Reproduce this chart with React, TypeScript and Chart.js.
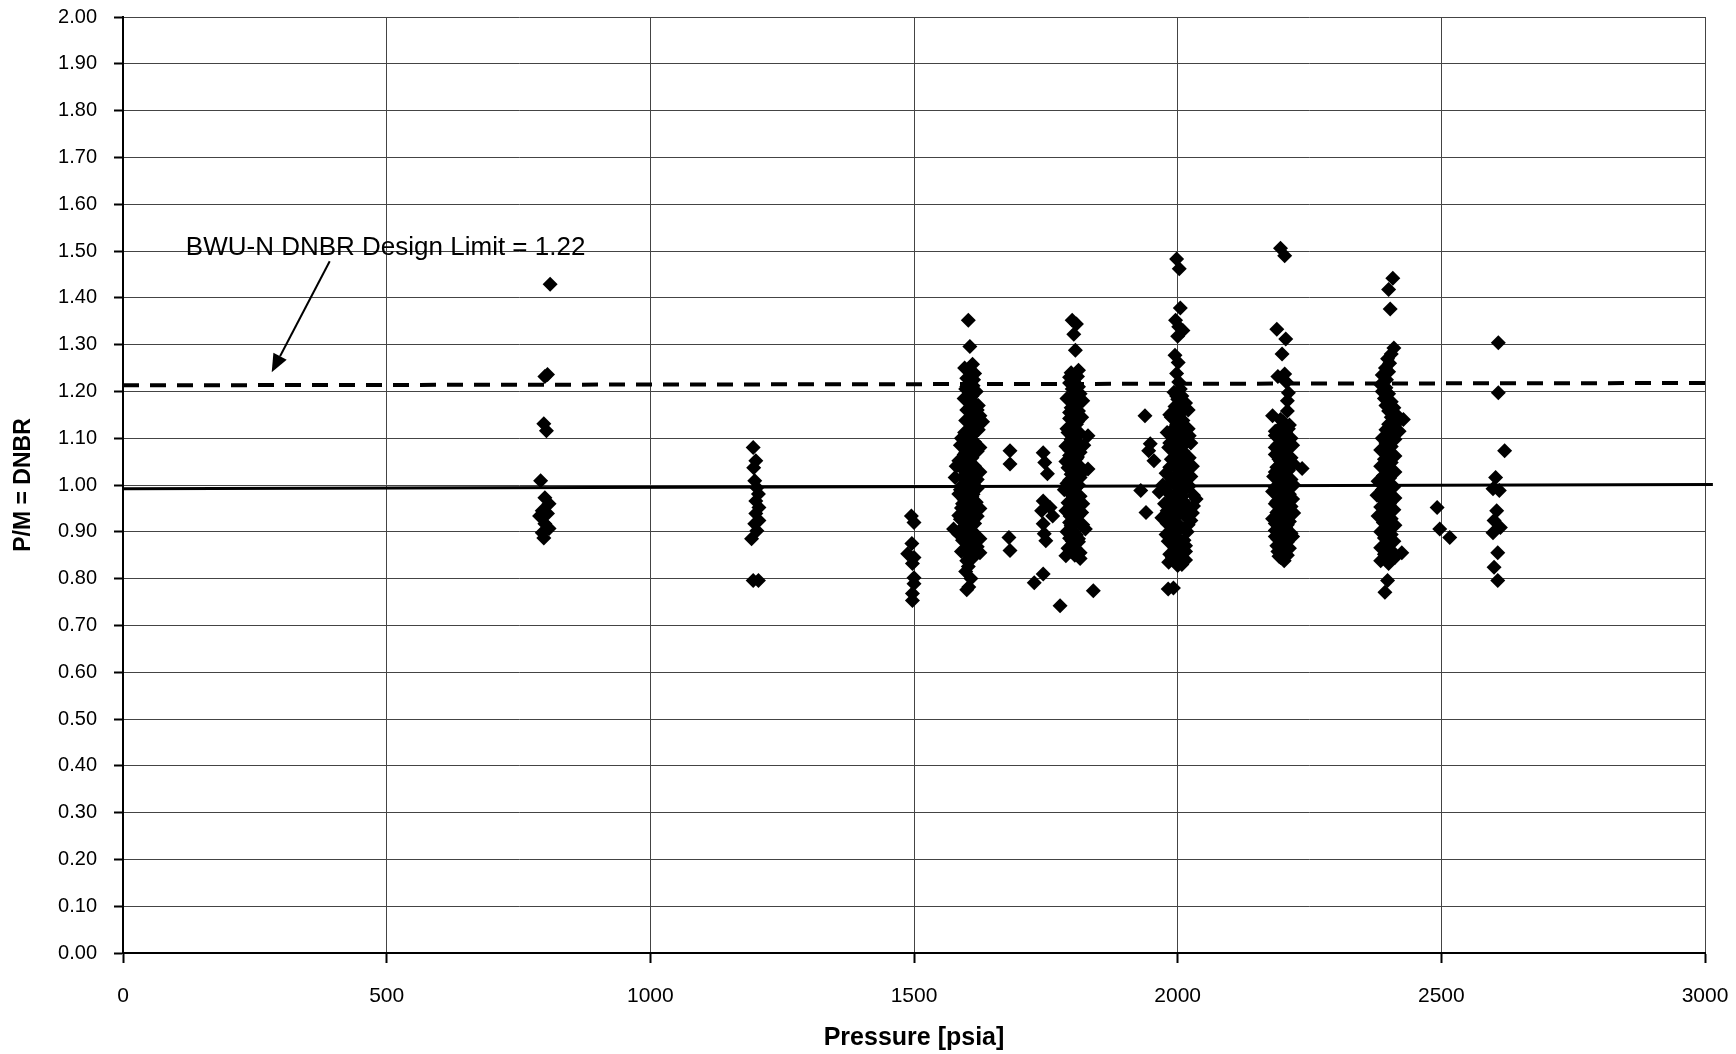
import React, { useEffect, useRef } from "react";
import { Chart, registerables } from "chart.js";

Chart.register(...registerables);

// ---- Data: [pressure psia, P/M = DNBR] ----
const cluster800: [number, number][] = [
  [810, 1.429], [805, 1.236], [800, 1.232], [798, 1.131], [803, 1.116], [792, 1.009],
  [800, 0.973], [808, 0.96], [795, 0.945], [790, 0.934], [805, 0.939], [800, 0.917],
  [808, 0.907], [795, 0.898], [798, 0.887],
];
const cluster1200: [number, number][] = [
  [1195, 1.08], [1200, 1.052], [1196, 1.037], [1198, 1.009], [1202, 0.994], [1205, 0.981],
  [1200, 0.966], [1206, 0.952], [1200, 0.939], [1206, 0.924], [1198, 0.917], [1202, 0.902],
  [1192, 0.885], [1195, 0.796], [1205, 0.796],
];
const cluster1500: [number, number][] = [
  [1495, 0.934], [1500, 0.92], [1496, 0.875], [1488, 0.853], [1500, 0.845], [1497, 0.832],
  [1500, 0.802], [1500, 0.789], [1497, 0.768], [1497, 0.753],
];
const cluster1600: [number, number][] = [
  [1603, 1.352], [1606, 1.296], [1611, 1.258], [1604, 1.245], [1615, 1.238], [1600, 1.228],
  [1608, 1.22], [1612, 1.212], [1598, 1.205], [1605, 1.198], [1610, 1.19], [1602, 1.182],
  [1615, 1.175], [1607, 1.168], [1620, 1.16], [1625, 1.148], [1612, 1.142], [1630, 1.135],
  [1618, 1.128], [1606, 1.12], [1596, 1.112], [1610, 1.105], [1600, 1.098], [1615, 1.092],
  [1588, 1.085], [1605, 1.078], [1620, 1.072], [1595, 1.065], [1610, 1.058], [1585, 1.052],
  [1600, 1.046], [1615, 1.04], [1592, 1.034], [1625, 1.028], [1605, 1.022], [1578, 1.016],
  [1598, 1.01], [1612, 1.004], [1590, 0.998], [1620, 0.993], [1600, 0.987], [1585, 0.981],
  [1610, 0.975], [1595, 0.969], [1618, 0.963], [1602, 0.957], [1590, 0.951], [1612, 0.945],
  [1598, 0.939], [1620, 0.933], [1588, 0.927], [1605, 0.921], [1575, 0.906], [1595, 0.912],
  [1612, 0.9], [1600, 0.894], [1618, 0.888], [1592, 0.882], [1608, 0.876], [1620, 0.868],
  [1598, 0.862], [1625, 0.855], [1605, 0.85], [1612, 0.845], [1603, 0.826], [1598, 0.815],
  [1608, 0.8], [1604, 0.782], [1600, 0.776],
  [1596, 1.25], [1613, 1.225], [1600, 1.21], [1618, 1.2], [1595, 1.185], [1622, 1.17],
  [1600, 1.16], [1612, 1.15], [1598, 1.138], [1622, 1.118], [1590, 1.1], [1625, 1.08],
  [1598, 1.07], [1580, 1.04], [1610, 1.03], [1595, 1.02], [1620, 1.012], [1588, 0.99],
  [1605, 0.995], [1612, 0.98], [1592, 0.96], [1625, 0.95], [1605, 0.94], [1585, 0.935],
  [1615, 0.918], [1598, 0.905], [1585, 0.895], [1625, 0.885], [1602, 0.872], [1590, 0.858],
  [1610, 0.86], [1600, 0.838],
];
const cluster1680: [number, number][] = [
  [1682, 1.073], [1682, 1.045], [1680, 0.888], [1682, 0.86],
];
const cluster1750: [number, number][] = [
  [1745, 1.069], [1748, 1.048], [1753, 1.024], [1745, 0.966], [1742, 0.945], [1758, 0.952],
  [1763, 0.934], [1745, 0.917], [1747, 0.896], [1750, 0.881], [1728, 0.791], [1745, 0.81],
  [1777, 0.742],
];
const cluster1800: [number, number][] = [
  [1800, 1.352], [1808, 1.344], [1803, 1.322], [1806, 1.288], [1798, 1.24], [1810, 1.232],
  [1802, 1.225], [1795, 1.218], [1812, 1.21], [1805, 1.203], [1815, 1.195], [1800, 1.19],
  [1820, 1.18], [1808, 1.172], [1798, 1.165], [1812, 1.158], [1803, 1.15], [1795, 1.142],
  [1810, 1.135], [1800, 1.128], [1830, 1.105], [1805, 1.12], [1792, 1.112], [1808, 1.104],
  [1798, 1.097], [1812, 1.09], [1788, 1.083], [1803, 1.076], [1815, 1.07], [1795, 1.063],
  [1808, 1.056], [1800, 1.05], [1830, 1.034], [1812, 1.043], [1792, 1.037], [1805, 1.03],
  [1798, 1.023], [1815, 1.016], [1802, 1.01], [1790, 1.003], [1810, 0.997], [1800, 0.99],
  [1795, 0.983], [1815, 0.976], [1805, 0.969], [1792, 0.962], [1810, 0.955], [1800, 0.948],
  [1818, 0.941], [1796, 0.934], [1806, 0.927], [1812, 0.92], [1798, 0.913], [1825, 0.906],
  [1803, 0.9], [1808, 0.893], [1795, 0.886], [1812, 0.879], [1800, 0.872], [1806, 0.865],
  [1798, 0.858], [1788, 0.849], [1815, 0.843], [1840, 0.774],
  [1812, 1.245], [1795, 1.23], [1808, 1.215], [1800, 1.205], [1790, 1.185], [1812, 1.175],
  [1795, 1.155], [1818, 1.145], [1808, 1.13], [1790, 1.12], [1815, 1.11], [1800, 1.1],
  [1822, 1.085], [1795, 1.075], [1810, 1.06], [1788, 1.05], [1818, 1.025], [1795, 1.01],
  [1812, 1.0], [1785, 0.99], [1808, 0.98], [1798, 0.965], [1820, 0.96], [1788, 0.945],
  [1812, 0.935], [1795, 0.92], [1820, 0.915], [1790, 0.9], [1812, 0.885], [1800, 0.88],
  [1792, 0.865], [1815, 0.855], [1805, 0.85],
];
const cluster1950: [number, number][] = [
  [1938, 1.148], [1948, 1.088], [1945, 1.073], [1955, 1.052], [1930, 0.988], [1940, 0.941],
  [1983, 1.08],
];
const cluster2000: [number, number][] = [
  [1998, 1.483], [2003, 1.462], [2005, 1.378], [1996, 1.352], [2002, 1.338], [2010, 1.33],
  [2000, 1.318], [1995, 1.277], [2001, 1.262], [1998, 1.238], [2002, 1.22],
  [1993, 1.198], [2008, 1.19], [2000, 1.183], [2015, 1.175], [1995, 1.168], [2020, 1.16],
  [2005, 1.152], [1988, 1.145], [2010, 1.138], [1998, 1.13], [2015, 1.122], [1980, 1.112],
  [2003, 1.115], [2012, 1.106], [1995, 1.1], [2018, 1.093], [2005, 1.086], [1990, 1.079],
  [2010, 1.072], [2000, 1.065], [2022, 1.058], [1995, 1.051], [2008, 1.045], [1985, 1.038],
  [2015, 1.031], [2000, 1.025], [2025, 1.018], [1990, 1.012], [2008, 1.005], [1980, 0.998],
  [2015, 0.992], [2000, 0.986], [2030, 0.978], [1990, 0.972], [2010, 0.966], [1975, 0.96],
  [2020, 0.954], [2000, 0.948], [1985, 0.942], [2012, 0.936], [1995, 0.93], [2025, 0.924],
  [1980, 0.918], [2005, 0.912], [1990, 0.906], [2018, 0.9], [1978, 0.894], [2000, 0.888],
  [2012, 0.882], [1988, 0.876], [2005, 0.87], [1995, 0.864], [2015, 0.858], [1985, 0.852],
  [2002, 0.846], [1995, 0.838], [2008, 0.83], [1983, 0.835], [1992, 0.78], [1982, 0.778],
  [1965, 0.985], [2035, 0.97], [1970, 0.93], [2028, 0.94], [1972, 1.0], [2025, 1.09],
  [1985, 1.15], [2020, 1.12],
  [2005, 1.205], [1998, 1.19], [2012, 1.165], [1990, 1.155], [2005, 1.14], [1992, 1.12],
  [2022, 1.105], [1985, 1.09], [2000, 1.08], [2015, 1.06], [1988, 1.055], [2028, 1.04],
  [2000, 1.035], [1978, 1.025], [2012, 1.015], [1995, 1.0], [2022, 0.998], [1985, 0.98],
  [2008, 0.975], [1995, 0.96], [2030, 0.955], [1980, 0.945], [2010, 0.94], [1990, 0.925],
  [2020, 0.915], [1998, 0.9], [1982, 0.88], [2015, 0.87], [1995, 0.875], [2008, 0.855],
  [1990, 0.845], [2015, 0.84], [2000, 0.828],
];
const cluster2200: [number, number][] = [
  [2195, 1.506], [2203, 1.49], [2188, 1.333], [2205, 1.312], [2198, 1.28], [2203, 1.237],
  [2190, 1.232], [2206, 1.22], [2210, 1.197], [2208, 1.18], [2208, 1.158], [2180, 1.148],
  [2200, 1.135], [2212, 1.128], [2192, 1.12], [2205, 1.113], [2185, 1.106], [2215, 1.1],
  [2198, 1.093], [2190, 1.086], [2210, 1.079], [2200, 1.072], [2185, 1.065], [2215, 1.058],
  [2195, 1.051], [2205, 1.045], [2236, 1.035], [2188, 1.038], [2210, 1.031], [2198, 1.025],
  [2182, 1.018], [2215, 1.012], [2200, 1.005], [2190, 0.998], [2208, 0.992], [2180, 0.986],
  [2212, 0.98], [2195, 0.973], [2205, 0.967], [2185, 0.96], [2215, 0.954], [2198, 0.948],
  [2188, 0.941], [2208, 0.935], [2180, 0.928], [2212, 0.922], [2195, 0.916], [2205, 0.909],
  [2185, 0.903], [2215, 0.897], [2198, 0.89], [2190, 0.884], [2208, 0.878], [2195, 0.871],
  [2205, 0.865], [2190, 0.858], [2200, 0.851], [2195, 0.845], [2202, 0.838],
  [2195, 1.14], [2210, 1.12], [2185, 1.115], [2200, 1.1], [2218, 1.085], [2185, 1.08],
  [2205, 1.06], [2192, 1.055], [2220, 1.045], [2200, 1.04], [2185, 1.028], [2205, 1.018],
  [2192, 1.01], [2220, 1.0], [2185, 0.995], [2200, 0.985], [2218, 0.97], [2188, 0.965],
  [2205, 0.955], [2192, 0.945], [2220, 0.94], [2200, 0.93], [2185, 0.918], [2208, 0.915],
  [2195, 0.9], [2218, 0.89], [2185, 0.89], [2200, 0.875], [2212, 0.865], [2188, 0.87],
  [2208, 0.85], [2192, 0.848],
];
const cluster2400: [number, number][] = [
  [2408, 1.442], [2400, 1.418], [2403, 1.376], [2410, 1.293], [2405, 1.28], [2398, 1.27],
  [2402, 1.26], [2394, 1.25], [2400, 1.242], [2388, 1.235], [2396, 1.225], [2385, 1.215],
  [2395, 1.208], [2388, 1.2], [2400, 1.195], [2392, 1.185], [2405, 1.178], [2395, 1.17],
  [2410, 1.165], [2400, 1.158], [2415, 1.15], [2405, 1.145], [2428, 1.14], [2418, 1.135],
  [2400, 1.13], [2410, 1.125], [2395, 1.118], [2420, 1.115], [2402, 1.108], [2388, 1.1],
  [2412, 1.098], [2395, 1.09], [2405, 1.082], [2385, 1.075], [2400, 1.07], [2412, 1.062],
  [2392, 1.055], [2405, 1.048], [2385, 1.04], [2398, 1.035], [2412, 1.028], [2390, 1.02],
  [2402, 1.015], [2380, 1.008], [2395, 1.002], [2410, 0.996], [2388, 0.99], [2400, 0.983],
  [2378, 0.978], [2412, 0.972], [2392, 0.966], [2402, 0.96], [2385, 0.953], [2410, 0.947],
  [2395, 0.94], [2380, 0.934], [2405, 0.928], [2390, 0.92], [2412, 0.914], [2398, 0.908],
  [2385, 0.9], [2405, 0.894], [2392, 0.887], [2410, 0.88], [2398, 0.873], [2385, 0.866],
  [2405, 0.86], [2425, 0.855], [2392, 0.852], [2412, 0.845], [2385, 0.838], [2400, 0.832],
  [2398, 0.796], [2393, 0.771],
];
const cluster2500: [number, number][] = [
  [2492, 0.952], [2497, 0.906], [2516, 0.888],
];
const cluster2600: [number, number][] = [
  [2608, 1.304], [2608, 1.197], [2620, 1.073], [2603, 1.016], [2598, 0.992], [2610, 0.988],
  [2605, 0.945], [2600, 0.924], [2612, 0.909], [2598, 0.898], [2607, 0.855], [2600, 0.824],
  [2607, 0.796],
];

// Trend lines
const designLimitLine: [number, number][] = [[0, 1.213], [3008, 1.218]];
const meanLine: [number, number][] = [[0, 0.992], [3015, 1.001]];

// Annotation
const annotationText = "BWU-N DNBR Design Limit = 1.22";
const annotationAt: [number, number] = [498, 1.506];
const arrowFrom: [number, number] = [392, 1.478];
const arrowTo: [number, number] = [282, 1.241];

// Axes
const xMin = 0, xMax = 3000, xStep = 500;
const yMin = 0, yMax = 2, yStep = 0.1;
const xTitle = "Pressure [psia]";
const yTitle = "P/M = DNBR";

const FONT = '"Liberation Sans", Arial, sans-serif';

const allPoints = [
  ...cluster800, ...cluster1200, ...cluster1500, ...cluster1600, ...cluster1680,
  ...cluster1750, ...cluster1800, ...cluster1950, ...cluster2000, ...cluster2200,
  ...cluster2400, ...cluster2500, ...cluster2600,
].map(([x, y]) => ({ x, y }));

const annotationPlugin = {
  id: "designLimitAnnotation",
  afterDatasetsDraw(chart: any) {
    const { ctx, scales } = chart;
    const xs = scales.x, ys = scales.y;
    ctx.save();
    ctx.font = `26px ${FONT}`;
    ctx.fillStyle = "#000";
    ctx.textAlign = "center";
    ctx.textBaseline = "middle";
    ctx.fillText(annotationText, xs.getPixelForValue(annotationAt[0]), ys.getPixelForValue(annotationAt[1]));
    const x1 = xs.getPixelForValue(arrowFrom[0]);
    const y1 = ys.getPixelForValue(arrowFrom[1]);
    const x2 = xs.getPixelForValue(arrowTo[0]);
    const y2 = ys.getPixelForValue(arrowTo[1]);
    const ang = Math.atan2(y2 - y1, x2 - x1);
    const head = 18, hw = 7.5;
    const bx = x2 - head * Math.cos(ang);
    const by = y2 - head * Math.sin(ang);
    ctx.strokeStyle = "#000";
    ctx.lineWidth = 2;
    ctx.beginPath();
    ctx.moveTo(x1, y1);
    ctx.lineTo(bx, by);
    ctx.stroke();
    ctx.beginPath();
    ctx.moveTo(x2, y2);
    ctx.lineTo(bx - hw * Math.sin(ang), by + hw * Math.cos(ang));
    ctx.lineTo(bx + hw * Math.sin(ang), by - hw * Math.cos(ang));
    ctx.closePath();
    ctx.fill();
    ctx.restore();
  },
};

const clearScalePadding = (s: any) => {
  s.paddingTop = 0;
  s.paddingBottom = 0;
  s.paddingLeft = 0;
  s.paddingRight = 0;
};

export default function App() {
  const canvasRef = useRef<HTMLCanvasElement | null>(null);

  useEffect(() => {
    if (!canvasRef.current) return;
    const chart = new Chart(canvasRef.current, {
      type: "scatter",
      data: {
        datasets: [
          {
            label: "P/M",
            data: allPoints,
            pointStyle: "rectRot",
            pointRadius: 7.5,
            pointBackgroundColor: "#000",
            pointBorderColor: "#000",
            pointBorderWidth: 0,
            showLine: false,
          },
          {
            label: "Design limit",
            data: designLimitLine.map(([x, y]) => ({ x, y })),
            showLine: true,
            borderColor: "#000",
            borderWidth: 4,
            borderDash: [16, 11],
            pointRadius: 0,
            clip: false,
          },
          {
            label: "Mean",
            data: meanLine.map(([x, y]) => ({ x, y })),
            showLine: true,
            borderColor: "#000",
            borderWidth: 3,
            pointRadius: 0,
            clip: false,
          },
        ],
      },
      options: {
        animation: false,
        responsive: true,
        maintainAspectRatio: false,
        layout: { autoPadding: false, padding: { top: 17, right: 31, left: 0, bottom: 0 } },
        plugins: {
          legend: { display: false },
          tooltip: { enabled: false },
        },
        scales: {
          x: {
            type: "linear",
            min: xMin,
            max: xMax,
            afterFit: (s: any) => { s.height = 101; clearScalePadding(s); },
            ticks: {
              stepSize: xStep,
              color: "#000",
              font: { family: FONT, size: 21 },
              padding: 21,
              maxRotation: 0,
              callback: (v: any) => String(v),
            },
            grid: {
              color: "#444",
              lineWidth: 1,
              tickLength: 10,
              tickColor: "#000",
              tickWidth: 2,
            },
            border: { display: true, color: "#000", width: 2 },
            title: {
              display: true,
              text: xTitle,
              color: "#000",
              font: { family: FONT, size: 25, weight: "bold" },
              padding: { top: 0, bottom: 1 },
            },
          },
          y: {
            type: "linear",
            min: yMin,
            max: yMax,
            afterFit: (s: any) => { s.width = 123; clearScalePadding(s); },
            ticks: {
              stepSize: yStep,
              color: "#000",
              font: { family: FONT, size: 20 },
              padding: 17,
              callback: (v: any) => Number(v).toFixed(2),
            },
            grid: {
              color: "#444",
              lineWidth: 1,
              tickLength: 9,
              tickColor: "#000",
              tickWidth: 2,
            },
            border: { display: true, color: "#000", width: 2 },
            title: {
              display: true,
              text: yTitle,
              color: "#000",
              font: { family: FONT, size: 23, weight: "bold" },
              padding: { top: 10, bottom: 0 },
            },
          },
        },
      },
      plugins: [annotationPlugin],
    });
    return () => chart.destroy();
  }, []);

  return (
    <div style={{ position: "absolute", left: 0, top: 0, width: 1736, height: 1054, background: "#fff" }}>
      <canvas ref={canvasRef} />
    </div>
  );
}
